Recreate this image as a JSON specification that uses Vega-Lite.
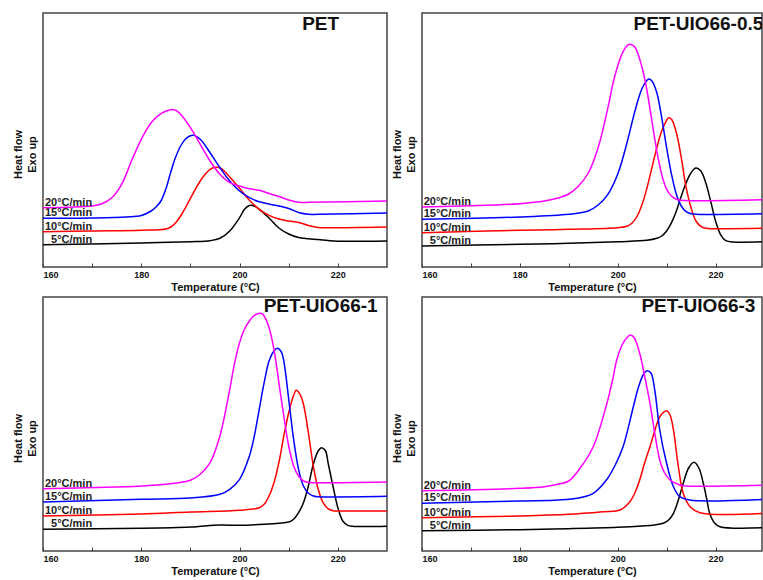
{
"$schema": "https://vega.github.io/schema/vega-lite/v6.json",
"padding": {"left": 11, "top": 12, "right": 0, "bottom": 0},
"background": "white",
"config": {"font": "Liberation Sans", "view": {"stroke": "#444", "strokeWidth": 1.5}, "axis": {"grid": false}},
"datasets": {"d": [
{"p":"PET","r":"5°C/min","T":160,"v":22.3},{"p":"PET","r":"5°C/min","T":170,"v":23},{"p":"PET","r":"5°C/min","T":180,"v":24},{"p":"PET","r":"5°C/min","T":190,"v":25.3},{"p":"PET","r":"5°C/min","T":194,"v":26.3},{"p":"PET","r":"5°C/min","T":196,"v":28.7},{"p":"PET","r":"5°C/min","T":198,"v":36},{"p":"PET","r":"5°C/min","T":200,"v":49.3},{"p":"PET","r":"5°C/min","T":201,"v":57.7},{"p":"PET","r":"5°C/min","T":202,"v":61.5},{"p":"PET","r":"5°C/min","T":203,"v":61},{"p":"PET","r":"5°C/min","T":204,"v":57.7},{"p":"PET","r":"5°C/min","T":206,"v":49},{"p":"PET","r":"5°C/min","T":208,"v":39},{"p":"PET","r":"5°C/min","T":210,"v":33},{"p":"PET","r":"5°C/min","T":212,"v":29.5},{"p":"PET","r":"5°C/min","T":214,"v":28.3},{"p":"PET","r":"5°C/min","T":216,"v":27.5},{"p":"PET","r":"5°C/min","T":218,"v":26.5},{"p":"PET","r":"5°C/min","T":220,"v":25.8},{"p":"PET","r":"5°C/min","T":230,"v":26},
{"p":"PET","r":"10°C/min","T":160,"v":35.3},{"p":"PET","r":"10°C/min","T":170,"v":36},{"p":"PET","r":"10°C/min","T":180,"v":36.7},{"p":"PET","r":"10°C/min","T":185,"v":38},{"p":"PET","r":"10°C/min","T":186,"v":40},{"p":"PET","r":"10°C/min","T":187,"v":44.3},{"p":"PET","r":"10°C/min","T":188,"v":51},{"p":"PET","r":"10°C/min","T":189,"v":59.3},{"p":"PET","r":"10°C/min","T":190,"v":68.7},{"p":"PET","r":"10°C/min","T":191,"v":77.7},{"p":"PET","r":"10°C/min","T":192,"v":86},{"p":"PET","r":"10°C/min","T":193,"v":92.7},{"p":"PET","r":"10°C/min","T":194,"v":97.7},{"p":"PET","r":"10°C/min","T":195,"v":99.7},{"p":"PET","r":"10°C/min","T":196,"v":99.3},{"p":"PET","r":"10°C/min","T":197,"v":95.3},{"p":"PET","r":"10°C/min","T":198,"v":90},{"p":"PET","r":"10°C/min","T":200,"v":78.7},{"p":"PET","r":"10°C/min","T":202,"v":66.7},{"p":"PET","r":"10°C/min","T":204,"v":57.7},{"p":"PET","r":"10°C/min","T":206,"v":51.7},{"p":"PET","r":"10°C/min","T":208,"v":48},{"p":"PET","r":"10°C/min","T":210,"v":46},{"p":"PET","r":"10°C/min","T":212,"v":44.5},{"p":"PET","r":"10°C/min","T":214,"v":41.5},{"p":"PET","r":"10°C/min","T":216,"v":39.5},{"p":"PET","r":"10°C/min","T":218,"v":39.2},{"p":"PET","r":"10°C/min","T":230,"v":40},
{"p":"PET","r":"15°C/min","T":160,"v":48.7},{"p":"PET","r":"15°C/min","T":170,"v":49},{"p":"PET","r":"15°C/min","T":177,"v":50},{"p":"PET","r":"15°C/min","T":180,"v":51.5},{"p":"PET","r":"15°C/min","T":182,"v":56},{"p":"PET","r":"15°C/min","T":183,"v":60},{"p":"PET","r":"15°C/min","T":184,"v":66},{"p":"PET","r":"15°C/min","T":185,"v":78},{"p":"PET","r":"15°C/min","T":186,"v":95},{"p":"PET","r":"15°C/min","T":187,"v":110},{"p":"PET","r":"15°C/min","T":188,"v":121},{"p":"PET","r":"15°C/min","T":189,"v":128},{"p":"PET","r":"15°C/min","T":190,"v":131.3},{"p":"PET","r":"15°C/min","T":190.7,"v":131.7},{"p":"PET","r":"15°C/min","T":192,"v":127.7},{"p":"PET","r":"15°C/min","T":194,"v":114.3},{"p":"PET","r":"15°C/min","T":196,"v":99.3},{"p":"PET","r":"15°C/min","T":198,"v":86},{"p":"PET","r":"15°C/min","T":200,"v":76},{"p":"PET","r":"15°C/min","T":202,"v":69.3},{"p":"PET","r":"15°C/min","T":204,"v":65.3},{"p":"PET","r":"15°C/min","T":206,"v":63},{"p":"PET","r":"15°C/min","T":208,"v":61},{"p":"PET","r":"15°C/min","T":210,"v":58.5},{"p":"PET","r":"15°C/min","T":212,"v":54.5},{"p":"PET","r":"15°C/min","T":214,"v":52.7},{"p":"PET","r":"15°C/min","T":216,"v":52.7},{"p":"PET","r":"15°C/min","T":230,"v":54},
{"p":"PET","r":"20°C/min","T":160,"v":59.3},{"p":"PET","r":"20°C/min","T":170,"v":61},{"p":"PET","r":"20°C/min","T":172,"v":63.3},{"p":"PET","r":"20°C/min","T":174,"v":69.3},{"p":"PET","r":"20°C/min","T":176,"v":82.7},{"p":"PET","r":"20°C/min","T":178,"v":106},{"p":"PET","r":"20°C/min","T":180,"v":127.7},{"p":"PET","r":"20°C/min","T":182,"v":144.3},{"p":"PET","r":"20°C/min","T":184,"v":153.3},{"p":"PET","r":"20°C/min","T":186,"v":157.3},{"p":"PET","r":"20°C/min","T":187,"v":156.7},{"p":"PET","r":"20°C/min","T":188,"v":152.7},{"p":"PET","r":"20°C/min","T":190,"v":139.3},{"p":"PET","r":"20°C/min","T":192,"v":122.7},{"p":"PET","r":"20°C/min","T":194,"v":106},{"p":"PET","r":"20°C/min","T":196,"v":92.7},{"p":"PET","r":"20°C/min","T":198,"v":84.3},{"p":"PET","r":"20°C/min","T":200,"v":81},{"p":"PET","r":"20°C/min","T":202,"v":78.3},{"p":"PET","r":"20°C/min","T":204,"v":76.7},{"p":"PET","r":"20°C/min","T":206,"v":73.5},{"p":"PET","r":"20°C/min","T":208,"v":70.5},{"p":"PET","r":"20°C/min","T":210,"v":67},{"p":"PET","r":"20°C/min","T":212,"v":64.7},{"p":"PET","r":"20°C/min","T":214,"v":64.7},{"p":"PET","r":"20°C/min","T":230,"v":66},
{"p":"0.5","r":"5°C/min","T":160,"v":21},{"p":"0.5","r":"5°C/min","T":180,"v":22.7},{"p":"0.5","r":"5°C/min","T":190,"v":23.7},{"p":"0.5","r":"5°C/min","T":200,"v":25.3},{"p":"0.5","r":"5°C/min","T":206,"v":26.7},{"p":"0.5","r":"5°C/min","T":208,"v":28.7},{"p":"0.5","r":"5°C/min","T":209,"v":31},{"p":"0.5","r":"5°C/min","T":210,"v":36},{"p":"0.5","r":"5°C/min","T":211,"v":44.3},{"p":"0.5","r":"5°C/min","T":212,"v":56},{"p":"0.5","r":"5°C/min","T":213,"v":71},{"p":"0.5","r":"5°C/min","T":214,"v":84.3},{"p":"0.5","r":"5°C/min","T":215,"v":94.3},{"p":"0.5","r":"5°C/min","T":216,"v":99},{"p":"0.5","r":"5°C/min","T":217,"v":96},{"p":"0.5","r":"5°C/min","T":218,"v":84.3},{"p":"0.5","r":"5°C/min","T":219,"v":66},{"p":"0.5","r":"5°C/min","T":220,"v":46},{"p":"0.5","r":"5°C/min","T":221,"v":32.7},{"p":"0.5","r":"5°C/min","T":222,"v":26.7},{"p":"0.5","r":"5°C/min","T":223,"v":25.3},{"p":"0.5","r":"5°C/min","T":230,"v":25.3},
{"p":"0.5","r":"10°C/min","T":160,"v":34.3},{"p":"0.5","r":"10°C/min","T":180,"v":36.7},{"p":"0.5","r":"10°C/min","T":190,"v":37.7},{"p":"0.5","r":"10°C/min","T":200,"v":39.3},{"p":"0.5","r":"10°C/min","T":202,"v":41},{"p":"0.5","r":"10°C/min","T":203,"v":44.3},{"p":"0.5","r":"10°C/min","T":204,"v":51},{"p":"0.5","r":"10°C/min","T":205,"v":62.7},{"p":"0.5","r":"10°C/min","T":206,"v":79.3},{"p":"0.5","r":"10°C/min","T":207,"v":99.3},{"p":"0.5","r":"10°C/min","T":208,"v":119.3},{"p":"0.5","r":"10°C/min","T":209,"v":136},{"p":"0.5","r":"10°C/min","T":210,"v":146.7},{"p":"0.5","r":"10°C/min","T":210.4,"v":149.3},{"p":"0.5","r":"10°C/min","T":211,"v":147.7},{"p":"0.5","r":"10°C/min","T":212,"v":134.3},{"p":"0.5","r":"10°C/min","T":213,"v":109.3},{"p":"0.5","r":"10°C/min","T":214,"v":79.3},{"p":"0.5","r":"10°C/min","T":215,"v":59.3},{"p":"0.5","r":"10°C/min","T":216,"v":46},{"p":"0.5","r":"10°C/min","T":217,"v":40.7},{"p":"0.5","r":"10°C/min","T":218,"v":38.7},{"p":"0.5","r":"10°C/min","T":220,"v":38.3},{"p":"0.5","r":"10°C/min","T":230,"v":38.7},
{"p":"0.5","r":"15°C/min","T":160,"v":47.7},{"p":"0.5","r":"15°C/min","T":180,"v":50},{"p":"0.5","r":"15°C/min","T":190,"v":52.7},{"p":"0.5","r":"15°C/min","T":194,"v":56},{"p":"0.5","r":"15°C/min","T":196,"v":62},{"p":"0.5","r":"15°C/min","T":198,"v":72.7},{"p":"0.5","r":"15°C/min","T":200,"v":92.7},{"p":"0.5","r":"15°C/min","T":202,"v":126},{"p":"0.5","r":"15°C/min","T":203,"v":146},{"p":"0.5","r":"15°C/min","T":204,"v":164.3},{"p":"0.5","r":"15°C/min","T":205,"v":178.7},{"p":"0.5","r":"15°C/min","T":206,"v":186.7},{"p":"0.5","r":"15°C/min","T":206.4,"v":188},{"p":"0.5","r":"15°C/min","T":207,"v":186},{"p":"0.5","r":"15°C/min","T":208,"v":174.3},{"p":"0.5","r":"15°C/min","T":209,"v":149.3},{"p":"0.5","r":"15°C/min","T":210,"v":119.3},{"p":"0.5","r":"15°C/min","T":211,"v":92.7},{"p":"0.5","r":"15°C/min","T":212,"v":72.7},{"p":"0.5","r":"15°C/min","T":213,"v":61},{"p":"0.5","r":"15°C/min","T":214,"v":55.3},{"p":"0.5","r":"15°C/min","T":215,"v":53.3},{"p":"0.5","r":"15°C/min","T":216,"v":52.7},{"p":"0.5","r":"15°C/min","T":230,"v":53.3},
{"p":"0.5","r":"20°C/min","T":160,"v":60},{"p":"0.5","r":"20°C/min","T":175,"v":62},{"p":"0.5","r":"20°C/min","T":180,"v":63.3},{"p":"0.5","r":"20°C/min","T":185,"v":66},{"p":"0.5","r":"20°C/min","T":188,"v":69.3},{"p":"0.5","r":"20°C/min","T":190,"v":73},{"p":"0.5","r":"20°C/min","T":192,"v":81},{"p":"0.5","r":"20°C/min","T":194,"v":94},{"p":"0.5","r":"20°C/min","T":196,"v":119.3},{"p":"0.5","r":"20°C/min","T":198,"v":159.3},{"p":"0.5","r":"20°C/min","T":199,"v":182.7},{"p":"0.5","r":"20°C/min","T":200,"v":201},{"p":"0.5","r":"20°C/min","T":201,"v":214.3},{"p":"0.5","r":"20°C/min","T":202,"v":221.7},{"p":"0.5","r":"20°C/min","T":202.6,"v":222.7},{"p":"0.5","r":"20°C/min","T":203.5,"v":220},{"p":"0.5","r":"20°C/min","T":205,"v":199.3},{"p":"0.5","r":"20°C/min","T":206,"v":176},{"p":"0.5","r":"20°C/min","T":207,"v":146},{"p":"0.5","r":"20°C/min","T":208,"v":116},{"p":"0.5","r":"20°C/min","T":209,"v":92.7},{"p":"0.5","r":"20°C/min","T":210,"v":77.7},{"p":"0.5","r":"20°C/min","T":211,"v":71},{"p":"0.5","r":"20°C/min","T":212,"v":67.7},{"p":"0.5","r":"20°C/min","T":213,"v":66.7},{"p":"0.5","r":"20°C/min","T":230,"v":67.3},
{"p":"1","r":"5°C/min","T":160,"v":21.7},{"p":"1","r":"5°C/min","T":180,"v":22.7},{"p":"1","r":"5°C/min","T":190,"v":24},{"p":"1","r":"5°C/min","T":196,"v":26},{"p":"1","r":"5°C/min","T":200,"v":25.7},{"p":"1","r":"5°C/min","T":205,"v":26.7},{"p":"1","r":"5°C/min","T":208,"v":27.7},{"p":"1","r":"5°C/min","T":210,"v":29},{"p":"1","r":"5°C/min","T":211,"v":31.7},{"p":"1","r":"5°C/min","T":212,"v":38.3},{"p":"1","r":"5°C/min","T":213,"v":48.3},{"p":"1","r":"5°C/min","T":214,"v":65},{"p":"1","r":"5°C/min","T":215,"v":86.7},{"p":"1","r":"5°C/min","T":216,"v":100},{"p":"1","r":"5°C/min","T":216.7,"v":103.3},{"p":"1","r":"5°C/min","T":217.5,"v":100},{"p":"1","r":"5°C/min","T":218,"v":88.3},{"p":"1","r":"5°C/min","T":219,"v":65},{"p":"1","r":"5°C/min","T":220,"v":43.3},{"p":"1","r":"5°C/min","T":221,"v":30},{"p":"1","r":"5°C/min","T":222,"v":25.7},{"p":"1","r":"5°C/min","T":223,"v":24.7},{"p":"1","r":"5°C/min","T":230,"v":24.7},
{"p":"1","r":"10°C/min","T":160,"v":35},{"p":"1","r":"10°C/min","T":180,"v":37},{"p":"1","r":"10°C/min","T":190,"v":39},{"p":"1","r":"10°C/min","T":200,"v":40.7},{"p":"1","r":"10°C/min","T":204,"v":43.3},{"p":"1","r":"10°C/min","T":205,"v":46.7},{"p":"1","r":"10°C/min","T":206,"v":55},{"p":"1","r":"10°C/min","T":207,"v":68.3},{"p":"1","r":"10°C/min","T":208,"v":88.3},{"p":"1","r":"10°C/min","T":209,"v":115},{"p":"1","r":"10°C/min","T":210,"v":138.3},{"p":"1","r":"10°C/min","T":211,"v":155.7},{"p":"1","r":"10°C/min","T":211.5,"v":160.7},{"p":"1","r":"10°C/min","T":212.3,"v":156.7},{"p":"1","r":"10°C/min","T":213,"v":146.7},{"p":"1","r":"10°C/min","T":214,"v":118.3},{"p":"1","r":"10°C/min","T":215,"v":85},{"p":"1","r":"10°C/min","T":216,"v":61.7},{"p":"1","r":"10°C/min","T":217,"v":48.3},{"p":"1","r":"10°C/min","T":218,"v":42.3},{"p":"1","r":"10°C/min","T":219,"v":40.3},{"p":"1","r":"10°C/min","T":220,"v":40},{"p":"1","r":"10°C/min","T":230,"v":40},
{"p":"1","r":"15°C/min","T":160,"v":49},{"p":"1","r":"15°C/min","T":180,"v":51.7},{"p":"1","r":"15°C/min","T":190,"v":53},{"p":"1","r":"15°C/min","T":196,"v":56.7},{"p":"1","r":"15°C/min","T":198,"v":61.7},{"p":"1","r":"15°C/min","T":200,"v":71.7},{"p":"1","r":"15°C/min","T":202,"v":95},{"p":"1","r":"15°C/min","T":203,"v":115},{"p":"1","r":"15°C/min","T":204,"v":141.7},{"p":"1","r":"15°C/min","T":205,"v":168.3},{"p":"1","r":"15°C/min","T":206,"v":190},{"p":"1","r":"15°C/min","T":207,"v":200},{"p":"1","r":"15°C/min","T":207.7,"v":202.7},{"p":"1","r":"15°C/min","T":208.5,"v":199},{"p":"1","r":"15°C/min","T":209,"v":190},{"p":"1","r":"15°C/min","T":210,"v":151.7},{"p":"1","r":"15°C/min","T":211,"v":111.7},{"p":"1","r":"15°C/min","T":212,"v":81.7},{"p":"1","r":"15°C/min","T":213,"v":65},{"p":"1","r":"15°C/min","T":214,"v":57.7},{"p":"1","r":"15°C/min","T":215,"v":55},{"p":"1","r":"15°C/min","T":216,"v":54.3},{"p":"1","r":"15°C/min","T":230,"v":54.7},
{"p":"1","r":"20°C/min","T":160,"v":62.3},{"p":"1","r":"20°C/min","T":177,"v":64.3},{"p":"1","r":"20°C/min","T":180,"v":65},{"p":"1","r":"20°C/min","T":185,"v":66.7},{"p":"1","r":"20°C/min","T":190,"v":70.7},{"p":"1","r":"20°C/min","T":192,"v":76.7},{"p":"1","r":"20°C/min","T":194,"v":88.3},{"p":"1","r":"20°C/min","T":196,"v":115},{"p":"1","r":"20°C/min","T":198,"v":161.7},{"p":"1","r":"20°C/min","T":199,"v":188.3},{"p":"1","r":"20°C/min","T":200,"v":208.3},{"p":"1","r":"20°C/min","T":201,"v":221.7},{"p":"1","r":"20°C/min","T":202,"v":230},{"p":"1","r":"20°C/min","T":203,"v":235.7},{"p":"1","r":"20°C/min","T":204.5,"v":237.5},{"p":"1","r":"20°C/min","T":205,"v":235},{"p":"1","r":"20°C/min","T":206,"v":223.3},{"p":"1","r":"20°C/min","T":207,"v":201.7},{"p":"1","r":"20°C/min","T":208,"v":168.3},{"p":"1","r":"20°C/min","T":209,"v":135},{"p":"1","r":"20°C/min","T":210,"v":105},{"p":"1","r":"20°C/min","T":211,"v":85},{"p":"1","r":"20°C/min","T":212,"v":75},{"p":"1","r":"20°C/min","T":213,"v":70},{"p":"1","r":"20°C/min","T":214,"v":68.7},{"p":"1","r":"20°C/min","T":215,"v":68.3},{"p":"1","r":"20°C/min","T":230,"v":69},
{"p":"3","r":"5°C/min","T":160,"v":20.3},{"p":"3","r":"5°C/min","T":180,"v":21.3},{"p":"3","r":"5°C/min","T":190,"v":22.3},{"p":"3","r":"5°C/min","T":200,"v":23.7},{"p":"3","r":"5°C/min","T":205,"v":25},{"p":"3","r":"5°C/min","T":207.5,"v":26},{"p":"3","r":"5°C/min","T":209.3,"v":27.7},{"p":"3","r":"5°C/min","T":210.4,"v":31},{"p":"3","r":"5°C/min","T":211.4,"v":37.7},{"p":"3","r":"5°C/min","T":212.4,"v":51},{"p":"3","r":"5°C/min","T":213.4,"v":67.7},{"p":"3","r":"5°C/min","T":214.5,"v":83},{"p":"3","r":"5°C/min","T":215.6,"v":88.7},{"p":"3","r":"5°C/min","T":216.6,"v":83},{"p":"3","r":"5°C/min","T":217.5,"v":67.7},{"p":"3","r":"5°C/min","T":218.2,"v":52},{"p":"3","r":"5°C/min","T":218.8,"v":37.7},{"p":"3","r":"5°C/min","T":219.8,"v":28},{"p":"3","r":"5°C/min","T":220.9,"v":24.3},{"p":"3","r":"5°C/min","T":230,"v":23.3},
{"p":"3","r":"10°C/min","T":160,"v":33.3},{"p":"3","r":"10°C/min","T":180,"v":35},{"p":"3","r":"10°C/min","T":190,"v":36.7},{"p":"3","r":"10°C/min","T":197,"v":39.3},{"p":"3","r":"10°C/min","T":200.5,"v":41},{"p":"3","r":"10°C/min","T":202.5,"v":49.3},{"p":"3","r":"10°C/min","T":203.5,"v":58},{"p":"3","r":"10°C/min","T":204.5,"v":71},{"p":"3","r":"10°C/min","T":205.5,"v":88},{"p":"3","r":"10°C/min","T":206.6,"v":104.3},{"p":"3","r":"10°C/min","T":207.5,"v":119},{"p":"3","r":"10°C/min","T":208.3,"v":131},{"p":"3","r":"10°C/min","T":209,"v":137},{"p":"3","r":"10°C/min","T":210,"v":140.3},{"p":"3","r":"10°C/min","T":210.7,"v":136},{"p":"3","r":"10°C/min","T":211.4,"v":121},{"p":"3","r":"10°C/min","T":212.4,"v":84.3},{"p":"3","r":"10°C/min","T":213.4,"v":57.7},{"p":"3","r":"10°C/min","T":214.8,"v":44.3},{"p":"3","r":"10°C/min","T":216.8,"v":38.3},{"p":"3","r":"10°C/min","T":230,"v":37.7},
{"p":"3","r":"15°C/min","T":160,"v":47.7},{"p":"3","r":"15°C/min","T":180,"v":50},{"p":"3","r":"15°C/min","T":188,"v":51},{"p":"3","r":"15°C/min","T":192,"v":53},{"p":"3","r":"15°C/min","T":195,"v":57.7},{"p":"3","r":"15°C/min","T":197.7,"v":71},{"p":"3","r":"15°C/min","T":199.5,"v":86},{"p":"3","r":"15°C/min","T":201.1,"v":104.3},{"p":"3","r":"15°C/min","T":203.2,"v":144.3},{"p":"3","r":"15°C/min","T":204.2,"v":163},{"p":"3","r":"15°C/min","T":205.2,"v":176},{"p":"3","r":"15°C/min","T":206,"v":180.3},{"p":"3","r":"15°C/min","T":206.8,"v":178},{"p":"3","r":"15°C/min","T":207.6,"v":160},{"p":"3","r":"15°C/min","T":208.6,"v":121},{"p":"3","r":"15°C/min","T":210,"v":87.7},{"p":"3","r":"15°C/min","T":211.4,"v":64.3},{"p":"3","r":"15°C/min","T":212.7,"v":54.3},{"p":"3","r":"15°C/min","T":214.7,"v":51},{"p":"3","r":"15°C/min","T":230,"v":51.7},
{"p":"3","r":"20°C/min","T":160,"v":60.3},{"p":"3","r":"20°C/min","T":180,"v":62.7},{"p":"3","r":"20°C/min","T":185,"v":64.3},{"p":"3","r":"20°C/min","T":188,"v":67},{"p":"3","r":"20°C/min","T":190,"v":70},{"p":"3","r":"20°C/min","T":192.3,"v":82.7},{"p":"3","r":"20°C/min","T":195,"v":104.3},{"p":"3","r":"20°C/min","T":197.7,"v":146},{"p":"3","r":"20°C/min","T":199,"v":172},{"p":"3","r":"20°C/min","T":199.8,"v":191},{"p":"3","r":"20°C/min","T":201,"v":207},{"p":"3","r":"20°C/min","T":202,"v":214},{"p":"3","r":"20°C/min","T":202.6,"v":216},{"p":"3","r":"20°C/min","T":203.4,"v":213},{"p":"3","r":"20°C/min","T":204.5,"v":197.7},{"p":"3","r":"20°C/min","T":205.5,"v":175},{"p":"3","r":"20°C/min","T":206.6,"v":147.7},{"p":"3","r":"20°C/min","T":207.6,"v":117},{"p":"3","r":"20°C/min","T":208.6,"v":91},{"p":"3","r":"20°C/min","T":209.6,"v":78},{"p":"3","r":"20°C/min","T":210.7,"v":71},{"p":"3","r":"20°C/min","T":212.7,"v":66},{"p":"3","r":"20°C/min","T":214,"v":65},{"p":"3","r":"20°C/min","T":230,"v":65.7}
]},
"spacing": 3,
"vconcat": [
{"hconcat": [
{"width": 344, "height": 254, "layer": [
 {"data": {"name": "d"}, "transform": [{"filter": "datum.p === 'PET'"}], "mark": {"type": "line", "strokeWidth": 1.5, "interpolate": "catmull-rom", "clip": true},
  "encoding": {"x": {"field": "T", "type": "quantitative", "scale": {"domain": [160, 230], "nice": false, "zero": false}, "axis": {"values": [160,170,180,190,200,210,220], "labelExpr": "datum.value % 20 === 0 ? datum.label : ''", "tickSize": -4, "tickColor": "#444", "domain": false, "labelPadding": 7, "labelFontSize": 9, "labelFontWeight": "bold", "labelColor": "#111", "title": "Temperature (°C)", "titleFontSize": 11, "titleFontWeight": "bold", "titleColor": "#111", "titlePadding": 2}},
   "y": {"field": "v", "type": "quantitative", "scale": {"domain": [0, 254], "nice": false}, "axis": {"title": ["Heat flow", "Exo up"], "labels": false, "ticks": false, "domain": false, "titleFontSize": 11, "titleFontWeight": "bold", "titleColor": "#111", "titlePadding": 6, "titleLineHeight": 14, "titleY": 141}},
   "color": {"field": "r", "type": "nominal", "scale": {"domain": ["5°C/min", "10°C/min", "15°C/min", "20°C/min"], "range": ["#000000", "#ff0000", "#0000ff", "#ff00ff"]}, "legend": null}}},
 {"data": {"name": "d"}, "transform": [{"filter": "datum.p === 'PET' && datum.T === 160"}], "mark": {"type": "text", "align": "right", "baseline": "alphabetic", "dy": -2, "fontSize": 11, "fontWeight": "bold", "color": "#222"},
  "encoding": {"x": {"datum": 170}, "y": {"field": "v", "type": "quantitative"}, "text": {"field": "r"}}},
 {"data": {"values": [{"t": "PET"}]}, "mark": {"type": "text", "align": "center", "baseline": "alphabetic", "fontSize": 19, "fontWeight": "bold", "clip": true, "color": "#111"},
  "encoding": {"x": {"datum": 216.5}, "y": {"datum": 237}, "text": {"field": "t"}}}
]},
{"width": 340, "height": 254, "layer": [
 {"data": {"name": "d"}, "transform": [{"filter": "datum.p === '0.5'"}], "mark": {"type": "line", "strokeWidth": 1.5, "interpolate": "catmull-rom", "clip": true},
  "encoding": {"x": {"field": "T", "type": "quantitative", "scale": {"domain": [160, 229.5], "nice": false, "zero": false}, "axis": {"values": [160,170,180,190,200,210,220], "labelExpr": "datum.value % 20 === 0 ? datum.label : ''", "tickSize": -4, "tickColor": "#444", "domain": false, "labelPadding": 7, "labelFontSize": 9, "labelFontWeight": "bold", "labelColor": "#111", "title": "Temperature (°C)", "titleFontSize": 11, "titleFontWeight": "bold", "titleColor": "#111", "titlePadding": 2}},
   "y": {"field": "v", "type": "quantitative", "scale": {"domain": [0, 254], "nice": false}, "axis": {"title": ["Heat flow", "Exo up"], "labels": false, "ticks": false, "domain": false, "titleFontSize": 11, "titleFontWeight": "bold", "titleColor": "#111", "titlePadding": 6, "titleLineHeight": 14, "titleY": 141}},
   "color": {"field": "r", "type": "nominal", "scale": {"domain": ["5°C/min", "10°C/min", "15°C/min", "20°C/min"], "range": ["#000000", "#ff0000", "#0000ff", "#ff00ff"]}, "legend": null}}},
 {"data": {"name": "d"}, "transform": [{"filter": "datum.p === '0.5' && datum.T === 160"}], "mark": {"type": "text", "align": "right", "baseline": "alphabetic", "dy": -2, "fontSize": 11, "fontWeight": "bold", "color": "#222"},
  "encoding": {"x": {"datum": 170}, "y": {"field": "v", "type": "quantitative"}, "text": {"field": "r"}}},
 {"data": {"values": [{"t": "PET-UIO66-0.5"}]}, "mark": {"type": "text", "align": "center", "baseline": "alphabetic", "fontSize": 19, "fontWeight": "bold", "clip": true, "color": "#111"},
  "encoding": {"x": {"datum": 216.5}, "y": {"datum": 237}, "text": {"field": "t"}}}
]}
], "spacing": 2},
{"hconcat": [
{"width": 344, "height": 254, "layer": [
 {"data": {"name": "d"}, "transform": [{"filter": "datum.p === '1'"}], "mark": {"type": "line", "strokeWidth": 1.5, "interpolate": "catmull-rom", "clip": true},
  "encoding": {"x": {"field": "T", "type": "quantitative", "scale": {"domain": [160, 230], "nice": false, "zero": false}, "axis": {"values": [160,170,180,190,200,210,220], "labelExpr": "datum.value % 20 === 0 ? datum.label : ''", "tickSize": -4, "tickColor": "#444", "domain": false, "labelPadding": 7, "labelFontSize": 9, "labelFontWeight": "bold", "labelColor": "#111", "title": "Temperature (°C)", "titleFontSize": 11, "titleFontWeight": "bold", "titleColor": "#111", "titlePadding": 2}},
   "y": {"field": "v", "type": "quantitative", "scale": {"domain": [0, 254], "nice": false}, "axis": {"title": ["Heat flow", "Exo up"], "labels": false, "ticks": false, "domain": false, "titleFontSize": 11, "titleFontWeight": "bold", "titleColor": "#111", "titlePadding": 6, "titleLineHeight": 14, "titleY": 141}},
   "color": {"field": "r", "type": "nominal", "scale": {"domain": ["5°C/min", "10°C/min", "15°C/min", "20°C/min"], "range": ["#000000", "#ff0000", "#0000ff", "#ff00ff"]}, "legend": null}}},
 {"data": {"name": "d"}, "transform": [{"filter": "datum.p === '1' && datum.T === 160"}], "mark": {"type": "text", "align": "right", "baseline": "alphabetic", "dy": -2, "fontSize": 11, "fontWeight": "bold", "color": "#222"},
  "encoding": {"x": {"datum": 170}, "y": {"field": "v", "type": "quantitative"}, "text": {"field": "r"}}},
 {"data": {"values": [{"t": "PET-UIO66-1"}]}, "mark": {"type": "text", "align": "center", "baseline": "alphabetic", "fontSize": 19, "fontWeight": "bold", "clip": true, "color": "#111"},
  "encoding": {"x": {"datum": 216.5}, "y": {"datum": 239}, "text": {"field": "t"}}}
]},
{"width": 340, "height": 254, "layer": [
 {"data": {"name": "d"}, "transform": [{"filter": "datum.p === '3'"}], "mark": {"type": "line", "strokeWidth": 1.5, "interpolate": "catmull-rom", "clip": true},
  "encoding": {"x": {"field": "T", "type": "quantitative", "scale": {"domain": [160, 229.5], "nice": false, "zero": false}, "axis": {"values": [160,170,180,190,200,210,220], "labelExpr": "datum.value % 20 === 0 ? datum.label : ''", "tickSize": -4, "tickColor": "#444", "domain": false, "labelPadding": 7, "labelFontSize": 9, "labelFontWeight": "bold", "labelColor": "#111", "title": "Temperature (°C)", "titleFontSize": 11, "titleFontWeight": "bold", "titleColor": "#111", "titlePadding": 2}},
   "y": {"field": "v", "type": "quantitative", "scale": {"domain": [0, 254], "nice": false}, "axis": {"title": ["Heat flow", "Exo up"], "labels": false, "ticks": false, "domain": false, "titleFontSize": 11, "titleFontWeight": "bold", "titleColor": "#111", "titlePadding": 6, "titleLineHeight": 14, "titleY": 141}},
   "color": {"field": "r", "type": "nominal", "scale": {"domain": ["5°C/min", "10°C/min", "15°C/min", "20°C/min"], "range": ["#000000", "#ff0000", "#0000ff", "#ff00ff"]}, "legend": null}}},
 {"data": {"name": "d"}, "transform": [{"filter": "datum.p === '3' && datum.T === 160"}], "mark": {"type": "text", "align": "right", "baseline": "alphabetic", "dy": -2, "fontSize": 11, "fontWeight": "bold", "color": "#222"},
  "encoding": {"x": {"datum": 170}, "y": {"field": "v", "type": "quantitative"}, "text": {"field": "r"}}},
 {"data": {"values": [{"t": "PET-UIO66-3"}]}, "mark": {"type": "text", "align": "center", "baseline": "alphabetic", "fontSize": 19, "fontWeight": "bold", "clip": true, "color": "#111"},
  "encoding": {"x": {"datum": 216.5}, "y": {"datum": 239}, "text": {"field": "t"}}}
]}
], "spacing": 2}
]
}
